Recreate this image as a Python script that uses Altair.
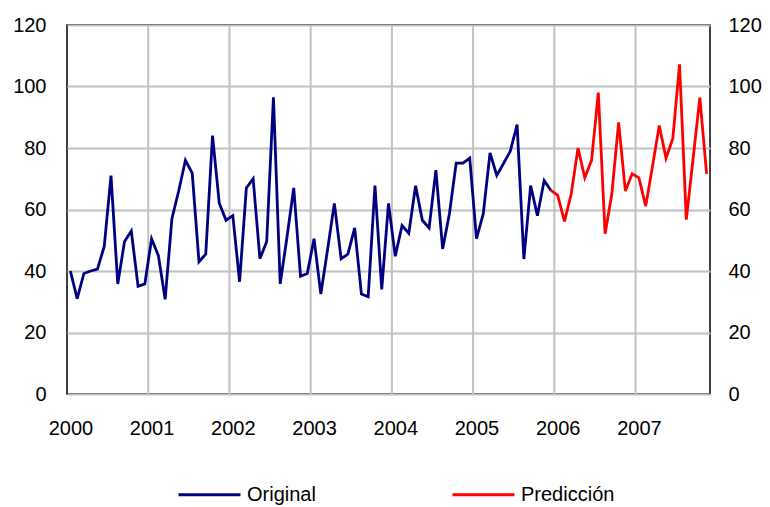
import altair as alt
import pandas as pd

# Monthly series, index 0 = Jan 2000
orig_values = [40, 31, 39.2, 40, 40.6, 48, 71, 35.8, 49.6, 53, 35, 35.8,
               50.5, 45, 30.8, 57, 66, 76, 71.8, 43, 45.5, 84, 62, 56.5,
               58, 36.5, 67, 70, 44, 49.5, 96.5, 35.8, 51, 67, 38.3, 39.2,
               50.5, 32.5, 47, 62, 44, 45.5, 54, 32.5, 31.6, 67.8, 34, 62,
               44.8, 54.8, 52.3, 67.7, 56.5, 54, 72.8, 47.2, 58.6, 75.1, 75.1, 76.7,
               50.5, 58.6, 78.4, 71.1, 75, 79, 87.6, 43.9, 67.8, 58, 69.4, 66.2]
pred_start = 71
pred_values = [66.2, 64.6, 56.1, 65.1, 80, 70.3, 76, 98, 52.1, 65.1, 88.3, 66,
               71.6, 70.3, 61.1, 74, 87.3, 76.7, 83, 107.2, 56.7, 76.5, 96.4, 71.6]
year_labels = [2000, 2001, 2002, 2003, 2004, 2005, 2006, 2007]
y_ticks = [0, 20, 40, 60, 80, 100, 120]
series_names = ["Original", "Predicción"]
series_colors = ["#000080", "#ff0000"]

rows = [{"k": i, "value": v, "series": series_names[0]} for i, v in enumerate(orig_values)]
rows += [{"k": pred_start + i, "value": v, "series": series_names[1]} for i, v in enumerate(pred_values)]
df = pd.DataFrame(rows)

n_months = pred_start + len(pred_values)
label_pos = [12 * j for j in range(len(year_labels))]
grid_pos = [12 * j - 0.5 for j in range(1, len(year_labels))]

FONT = "Liberation Sans"
xscale = alt.Scale(domain=[-0.5, n_months - 0.5], nice=False, zero=False)
yscale = alt.Scale(domain=[0, 120], nice=False)

vgrid = alt.Chart(pd.DataFrame({"g": grid_pos})).mark_rule(
    color="#c0c0c0", strokeWidth=2
).encode(
    x=alt.X("g:Q", scale=xscale,
            axis=alt.Axis(values=label_pos,
                          labelExpr="'' + (2000 + round(datum.value / 12))",
                          grid=False, ticks=False, domain=False,
                          labelFontSize=20, labelPadding=24, labelFont=FONT,
                          labelColor="black", title=None))
)

lines = alt.Chart(df).mark_line(strokeWidth=2.8).encode(
    x=alt.X("k:Q", scale=xscale),
    y=alt.Y("value:Q", scale=yscale,
            axis=alt.Axis(values=y_ticks, orient="left", grid=True,
                          gridColor="#c0c0c0", gridWidth=2, ticks=False,
                          domain=False, labelFontSize=20, labelPadding=21,
                          labelFont=FONT, labelColor="black", title=None)),
    color=alt.Color("series:N",
                    scale=alt.Scale(domain=series_names, range=series_colors),
                    sort=series_names,
                    legend=alt.Legend(orient="none", legendX=110, legendY=437,
                                      direction="horizontal", title=None,
                                      symbolType="stroke", symbolSize=3844,
                                      symbolStrokeWidth=2.8, labelFontSize=20,
                                      labelFont=FONT, labelColor="black",
                                      labelOffset=5, columnPadding=130,
                                      labelLimit=300)),
    detail="series:N",
)

right = alt.Chart(df).mark_line(opacity=0).encode(
    x=alt.X("k:Q", scale=xscale),
    y=alt.Y("value:Q", scale=yscale,
            axis=alt.Axis(values=y_ticks, orient="right", grid=False,
                          ticks=False, domain=False, labelFontSize=20,
                          labelPadding=18, labelFont=FONT, labelColor="black",
                          title=None)),
)

chart = alt.layer(vgrid, lines, right).resolve_axis(y="independent").properties(
    width=643, height=369,
    padding={"left": 59, "top": 17, "right": 52, "bottom": 112},
    autosize=alt.AutoSizeParams(type="none"),
).configure_view(stroke="black", strokeWidth=1.5)

chart.save("out.html", embed_options={"renderer": "svg", "actions": False})
